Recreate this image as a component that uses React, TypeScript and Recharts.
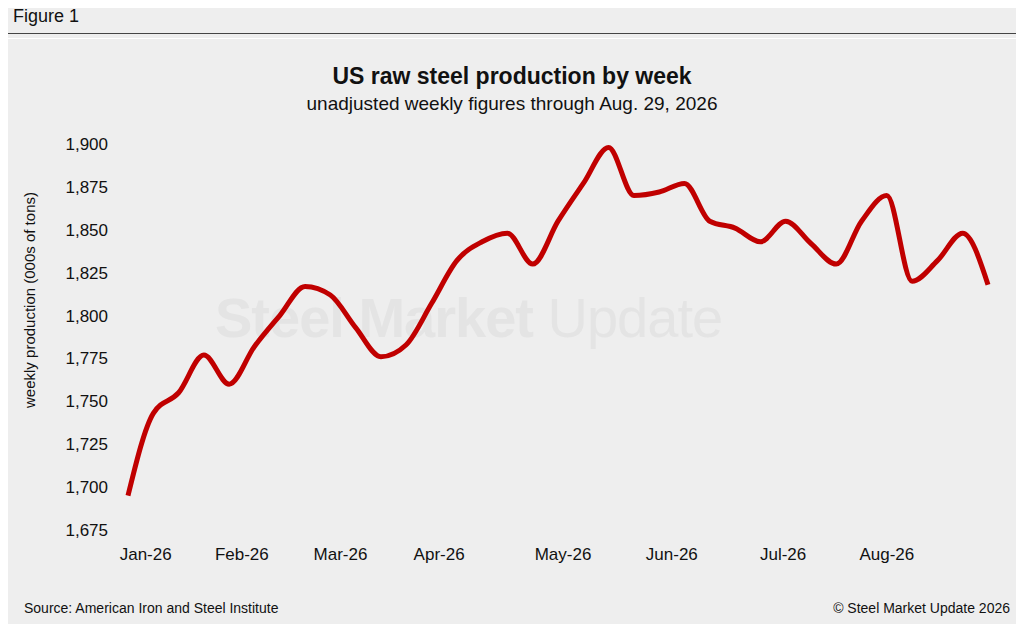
import { Line, LineChart, XAxis, YAxis } from "recharts";

const weeklyProduction = [
  1695, 1743, 1755, 1777, 1760, 1782, 1800, 1817, 1812, 1793, 1776, 1783,
  1807, 1832, 1843, 1848, 1830, 1855, 1877, 1898, 1870, 1872, 1877, 1855,
  1851, 1843, 1855, 1842, 1830, 1855, 1870, 1820, 1832, 1848, 1818,
];
const monthTicks = [0.7, 4.5, 8.4, 12.3, 17.2, 21.5, 25.9, 30];
const monthLabels = ["Jan-26", "Feb-26", "Mar-26", "Apr-26", "May-26", "Jun-26", "Jul-26", "Aug-26"];
const yTicks = [1675, 1700, 1725, 1750, 1775, 1800, 1825, 1850, 1875, 1900];

const data = weeklyProduction.map((value, week) => ({ week, value }));
const font = "'Liberation Sans', Arial, sans-serif";

export default function App() {
  return (
    <div
      style={{
        position: "relative",
        width: 1024,
        height: 632,
        margin: -8,
        background: "#fff",
        fontFamily: font,
        color: "#111",
      }}
    >
      <div style={{ position: "absolute", left: 6, top: 6, width: 1012, height: 620, background: "#eeeeee" }} />
      <div style={{ position: "absolute", left: 13, top: 6, fontSize: 18 }}>Figure 1</div>
      <div style={{ position: "absolute", left: 6, top: 33, width: 1012, height: 1, background: "#444" }} />
      <div
        style={{
          position: "absolute",
          left: 5,
          top: 38,
          width: 1012,
          height: 586,
          border: "1px solid #fff",
          borderRadius: 2,
        }}
      />
      <div style={{ position: "absolute", left: 0, width: 1024, top: 63, textAlign: "center", fontSize: 23, fontWeight: "bold" }}>
        US raw steel production by week
      </div>
      <div style={{ position: "absolute", left: 0, width: 1024, top: 93, textAlign: "center", fontSize: 19 }}>
        unadjusted weekly figures through Aug. 29, 2026
      </div>
      <div
        style={{
          position: "absolute",
          left: 215,
          top: 285,
          fontSize: 56,
          fontWeight: "bold",
          color: "#e4e4e4",
          letterSpacing: -1,
        }}
      >
        Steel Market <span style={{ fontWeight: "normal" }}>Update</span>
      </div>
      <div
        style={{
          position: "absolute",
          left: 16,
          top: 300,
          transform: "translate(-50%, -50%) rotate(-90deg)",
          marginLeft: 13,
          fontSize: 15,
          whiteSpace: "nowrap",
        }}
      >
        weekly production (000s of tons)
      </div>
      <div style={{ position: "absolute", left: 24, top: 600, fontSize: 14 }}>Source: American Iron and Steel Institute</div>
      <div style={{ position: "absolute", right: 14, top: 600, fontSize: 14 }}>© Steel Market Update 2026</div>
      <div style={{ position: "absolute", left: 0, top: 130 }}>
        <LineChart width={1010} height={440} data={data} margin={{ top: 14, right: 22, bottom: 0, left: 60 }}>
          <XAxis
            dataKey="week"
            type="number"
            domain={[0, weeklyProduction.length - 1]}
            ticks={monthTicks}
            tickFormatter={(v: number) => monthLabels[monthTicks.indexOf(v)]}
            axisLine={false}
            tickLine={false}
            tick={{ fill: "#111", fontSize: 17, fontFamily: font }}
            tickMargin={12}
            height={40}
          />
          <YAxis
            domain={[1675, 1900]}
            ticks={yTicks}
            tickFormatter={(v: number) => v.toLocaleString("en-US")}
            axisLine={false}
            tickLine={false}
            tick={{ fill: "#111", fontSize: 17, fontFamily: font }}
            width={68}
            tickMargin={14}
          />
          <Line
            dataKey="value"
            type="monotone"
            stroke="#c00000"
            strokeWidth={5}
            dot={false}
            isAnimationActive={false}
          />
        </LineChart>
      </div>
    </div>
  );
}
